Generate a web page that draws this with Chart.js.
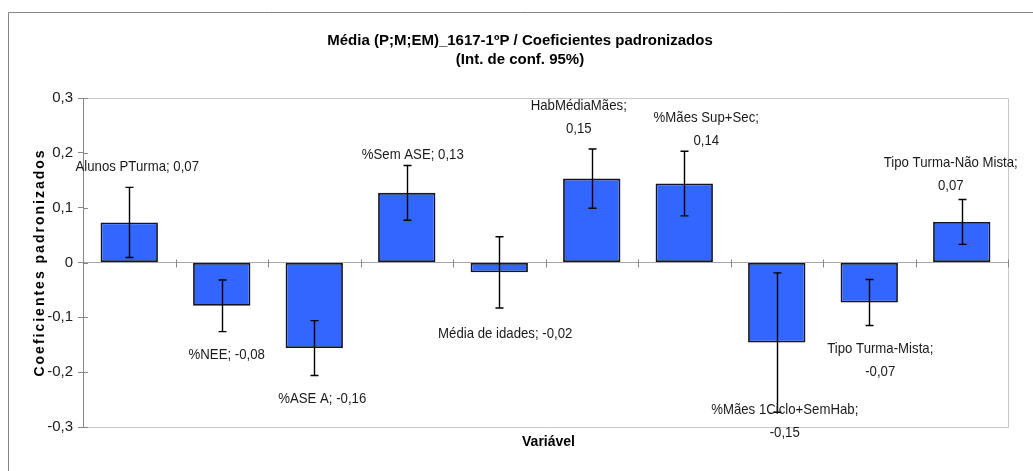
<!DOCTYPE html>
<html>
<head>
<meta charset="utf-8">
<script src="https://cdn.jsdelivr.net/npm/chart.js@4"></script>
<style>
  body { margin: 0; background: #fff; }
  canvas { display: block; }
</style>
</head>
<body>
<canvas id="grafico" width="1033" height="471"></canvas>
<script>
// dados
let variaveis = ['Alunos PTurma', '%NEE', '%ASE A', '%Sem ASE', 'Média de idades',
  'HabMédiaMães', '%Mães Sup+Sec', '%Mães 1Ciclo+SemHab', 'Tipo Turma-Mista', 'Tipo Turma-Não Mista'];
let coeficientes = [0.073, -0.079, -0.156, 0.127, -0.018, 0.153, 0.144, -0.146, -0.073, 0.074];
let intervalo = [0.064, 0.047, 0.050, 0.050, 0.065, 0.054, 0.059, 0.127, 0.042, 0.041];
let yTicks = [-0.3, -0.2, -0.1, 0, 0.1, 0.2, 0.3];

// posição das etiquetas: [dx, dy a partir do fim da barra de erro, quebra de linha]
let etiquetas = [
  [8, -21, false], [5, 23, false], [8, 23, false], [6, -11, false], [6, 26, false],
  [-13, -32, true], [22, -22, true], [8, 9, true], [11, 35, true], [-11, -25, true]
];

const fonteEtiqueta = '15px "Liberation Sans", Arial, sans-serif';
const estreito = 0.88; // aproximação da largura da Calibri
const cinzaEixo = '#868686';

function fmt(v) {
  return v.toFixed(2).replace('.', ',');
}

const desenho = {
  id: 'desenho',
  beforeDraw(chart) {
    const ctx = chart.ctx;
    ctx.save();
    ctx.fillStyle = '#fff';
    ctx.fillRect(0, 0, chart.width, chart.height);
    // moldura exterior
    ctx.strokeStyle = cinzaEixo;
    ctx.lineWidth = 1;
    ctx.beginPath();
    ctx.moveTo(8.5, chart.height);
    ctx.lineTo(8.5, 12.5);
    ctx.lineTo(chart.width, 12.5);
    ctx.stroke();
    // caixa da área do gráfico
    const a = chart.chartArea;
    ctx.strokeStyle = '#c8c8c8';
    ctx.beginPath();
    ctx.moveTo(a.left, a.top + 0.5);
    ctx.lineTo(a.right + 0.5, a.top + 0.5);
    ctx.lineTo(a.right + 0.5, a.bottom + 0.5);
    ctx.lineTo(a.left, a.bottom + 0.5);
    ctx.stroke();
    ctx.restore();
  },
  afterDatasetsDraw(chart) {
    const ctx = chart.ctx;
    const xs = chart.scales.x, ys = chart.scales.y;
    const a = chart.chartArea;
    ctx.save();
    // marcas do eixo x sobre a linha do zero
    const y0 = Math.round(ys.getPixelForValue(0)) + 0.5;
    const passo = xs.getPixelForValue(1) - xs.getPixelForValue(0);
    ctx.strokeStyle = cinzaEixo;
    ctx.lineWidth = 1;
    for (let i = 0; i <= variaveis.length; i++) {
      const x = Math.round(xs.getPixelForValue(i) - passo / 2) + 0.5;
      ctx.beginPath();
      ctx.moveTo(x, y0 - 4);
      ctx.lineTo(x, y0 + 4);
      ctx.stroke();
    }
    // marcas interiores do eixo y
    yTicks.forEach(t => {
      const y = Math.round(ys.getPixelForValue(t)) + 0.5;
      ctx.beginPath();
      ctx.moveTo(a.left, y);
      ctx.lineTo(a.left + 5, y);
      ctx.stroke();
    });
    // barras de erro
    ctx.strokeStyle = '#000';
    ctx.lineWidth = 1.4;
    coeficientes.forEach((v, i) => {
      const x = Math.round(xs.getPixelForValue(i)) + 0.5;
      const yt = ys.getPixelForValue(v + intervalo[i]);
      const yb = ys.getPixelForValue(v - intervalo[i]);
      ctx.beginPath();
      ctx.moveTo(x, yt); ctx.lineTo(x, yb);
      ctx.moveTo(x - 4, yt); ctx.lineTo(x + 4, yt);
      ctx.moveTo(x - 4, yb); ctx.lineTo(x + 4, yb);
      ctx.stroke();
    });
    // etiquetas de dados
    ctx.fillStyle = '#1a1a1a';
    ctx.font = fonteEtiqueta;
    ctx.textAlign = 'center';
    ctx.textBaseline = 'middle';
    coeficientes.forEach((v, i) => {
      const [dx, dy, quebra] = etiquetas[i];
      const fim = v >= 0 ? v + intervalo[i] : v - intervalo[i];
      const cx = xs.getPixelForValue(i) + dx;
      const cy = ys.getPixelForValue(fim) + dy;
      const linhas = quebra ? [variaveis[i] + ';', fmt(v)] : [variaveis[i] + '; ' + fmt(v)];
      linhas.forEach((l, k) => {
        ctx.save();
        ctx.translate(cx, cy + (k - (linhas.length - 1) / 2) * 23);
        ctx.scale(estreito, 1);
        ctx.fillText(l, 0, 0);
        ctx.restore();
      });
    });
    // títulos
    ctx.fillStyle = '#000';
    ctx.font = 'bold 15px "Liberation Sans", Arial, sans-serif';
    ctx.fillText('Média (P;M;EM)_1617-1ºP / Coeficientes padronizados', 520, 41);
    ctx.fillText('(Int. de conf. 95%)', 520, 60);
    ctx.font = 'bold 14px "Liberation Sans", Arial, sans-serif';
    ctx.fillText('Variável', (a.left + a.right) / 2 + 3, 442);
    ctx.translate(40, (a.top + a.bottom) / 2);
    ctx.rotate(-Math.PI / 2);
    ctx.letterSpacing = '2px';
    ctx.fillText('Coeficientes padronizados', 0, 0);
    ctx.restore();
  }
};

new Chart(document.getElementById('grafico'), {
  type: 'bar',
  data: {
    labels: variaveis,
    datasets: [{
      data: coeficientes,
      backgroundColor: '#3366ff',
      borderColor: '#141428',
      borderWidth: 1.8,
      borderSkipped: false,
      barPercentage: 1,
      categoryPercentage: 0.62
    }]
  },
  options: {
    responsive: false,
    animation: false,
    devicePixelRatio: 1,
    layout: { padding: { left: 8, right: 25, top: 98, bottom: 44 } },
    plugins: {
      legend: { display: false },
      tooltip: { enabled: false }
    },
    scales: {
      x: { display: false },
      y: {
        min: -0.3,
        max: 0.3,
        afterFit(s) { s.width = 75; },
        afterBuildTicks(s) { s.ticks = yTicks.map(v => ({ value: v })); },
        ticks: {
          padding: 5,
          color: '#1a1a1a',
          font: { family: '"Liberation Sans", Arial, sans-serif', size: 15 },
          callback: v => v === 0 ? '0' : v.toFixed(1).replace('.', ',')
        },
        grid: {
          color: c => c.tick && c.tick.value === 0 ? '#a6a6a6' : 'transparent',
          tickColor: cinzaEixo,
          tickLength: 5
        },
        border: { color: cinzaEixo }
      }
    }
  },
  plugins: [desenho]
});
</script>
</body>
</html>
